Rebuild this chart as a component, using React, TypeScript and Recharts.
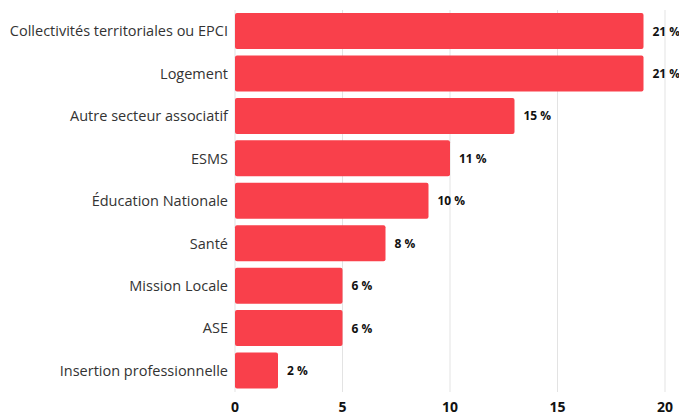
import { BarChart, Bar, XAxis, YAxis, CartesianGrid, LabelList } from 'recharts';

const categories = [
  'Collectivités territoriales ou EPCI',
  'Logement',
  'Autre secteur associatif',
  'ESMS',
  'Éducation Nationale',
  'Santé',
  'Mission Locale',
  'ASE',
  'Insertion professionnelle',
];
const counts = [19, 19, 13, 10, 9, 7, 5, 5, 2];
const shares = ['21 %', '21 %', '15 %', '11 %', '10 %', '8 %', '6 %', '6 %', '2 %'];
const xTicks = [0, 5, 10, 15, 20];

const data = categories.map((name, i) => ({ name, count: counts[i], share: shares[i] }));

const FONT = '"Open Sans", sans-serif';

// plain <text> so the label never wraps
const ShareLabel = (props: any) => {
  const { x, y, width, height, value } = props;
  return (
    <text
      x={Number(x) + Number(width) + 9}
      y={Number(y) + Number(height) / 2}
      dominantBaseline="central"
      fill="#111"
      fontSize={12}
      fontWeight={700}
      fontFamily={FONT}
    >
      {value}
    </text>
  );
};

export default function App() {
  return (
    <div style={{ fontFamily: FONT }}>
      <BarChart
        width={679}
        height={410}
        data={data}
        layout="vertical"
        margin={{ top: 2, right: 22, bottom: 0, left: 0 }}
        barCategoryGap={3}
      >
        <CartesianGrid horizontal={false} stroke="#e3e3e3" />
        <XAxis
          type="number"
          domain={[0, 20]}
          ticks={xTicks}
          axisLine={false}
          tickLine={false}
          tick={{ fill: '#111', fontSize: 14, fontWeight: 700, fontFamily: FONT }}
          height={26}
          tickMargin={4}
          interval={0}
        />
        <YAxis
          type="category"
          dataKey="name"
          width={227}
          axisLine={false}
          tickLine={false}
          tickMargin={1}
          tick={{ fill: '#333', fontSize: 14.5, fontFamily: FONT }}
          interval={0}
        />
        <Bar dataKey="count" fill="#f9404b" radius={2} isAnimationActive={false}>
          <LabelList dataKey="share" content={ShareLabel} />
        </Bar>
      </BarChart>
    </div>
  );
}
